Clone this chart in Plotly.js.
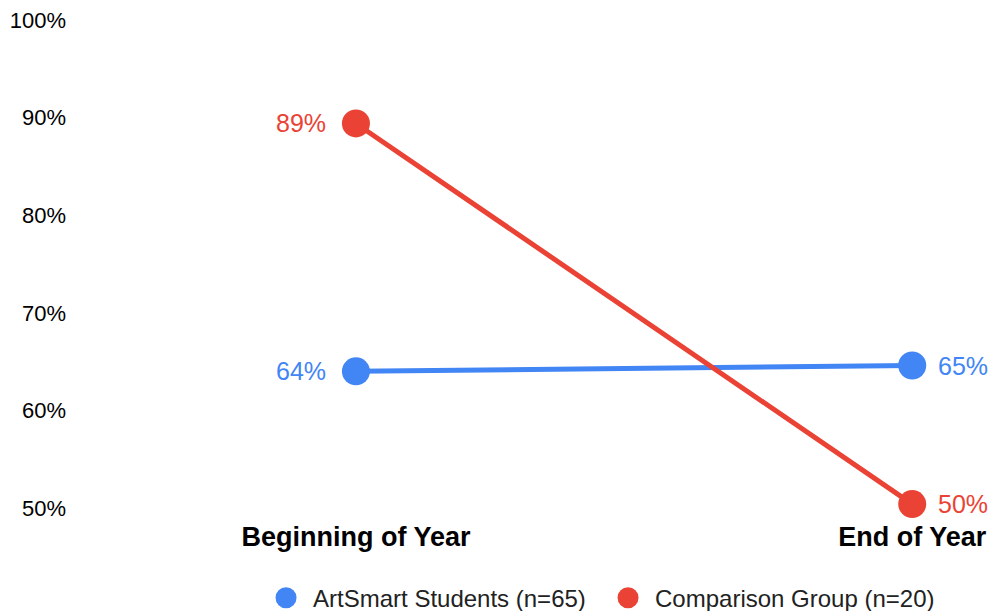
<!DOCTYPE html>
<html>
<head>
<meta charset="utf-8">
<script src="https://cdn.plot.ly/plotly-3.0.1.min.js"></script>
<style>
  html, body { margin: 0; padding: 0; background: #fff; }
  #chart { width: 994px; height: 611px; }
</style>
</head>
<body>
<div id="chart"></div>
<script>
// Share of students, start vs end of the school year
const periods = ['Beginning of Year', 'End of Year'];
const artSmartName = 'ArtSmart Students (n=65)';
const artSmartValues = [64.0, 64.6];
const comparisonName = 'Comparison Group (n=20)';
const comparisonValues = [89.4, 50.4];
const yTickValues = [50, 60, 70, 80, 90, 100];
const yTickLabels = ['50%', '60%', '70%', '80%', '90%', '100%'];

const BLUE = '#4285F4';
const RED = '#EA4335';
const FONT = '"Liberation Sans", Arial, Helvetica, sans-serif';

const xIdx = periods.map((_, i) => i);

function series(name, values, color) {
  return {
    type: 'scatter',
    mode: 'lines+markers',
    name: name,
    x: xIdx,
    y: values,
    line: { color: color, width: 5 },
    marker: { color: color, size: 28 },
    cliponaxis: false,
    showlegend: false,
    hoverinfo: 'skip'
  };
}

// Legend entries drawn as plain dots
function legendDot(name, color) {
  return {
    type: 'scatter',
    mode: 'markers',
    name: name,
    x: [null],
    y: [null],
    marker: { color: color, size: 16, line: { color: color, width: 5 } },
    showlegend: true,
    hoverinfo: 'skip'
  };
}

// Percentage labels beside each point: left of the first, right of the last
function valueLabels(values, color) {
  return values.map((v, i) => ({
    x: xIdx[i],
    y: v,
    xref: 'x',
    yref: 'y',
    text: Math.round(v) + '%',
    showarrow: false,
    xanchor: i === 0 ? 'right' : 'left',
    yanchor: 'middle',
    xshift: i === 0 ? -28 : 24,
    font: { family: FONT, size: 25, color: color }
  }));
}

const data = [
  series(artSmartName, artSmartValues, BLUE),
  series(comparisonName, comparisonValues, RED),
  legendDot(artSmartName, BLUE),
  legendDot(comparisonName, RED)
];

const layout = {
  width: 994,
  height: 611,
  margin: { l: 75, r: 0, t: 20, b: 103, autoexpand: false },
  paper_bgcolor: '#fff',
  plot_bgcolor: '#fff',
  font: { family: FONT, color: '#000' },
  xaxis: {
    range: [-0.505, 1.147],
    tickvals: xIdx,
    ticktext: periods.map(p => '<b>' + p + '</b>'),
    tickfont: { family: FONT, size: 27, color: '#000' },
    showgrid: false,
    zeroline: false,
    showline: false,
    ticks: '',
    ticklabelstandoff: 10,
    fixedrange: true
  },
  yaxis: {
    range: [50, 100],
    tickvals: yTickValues,
    ticktext: yTickLabels,
    tickfont: { family: FONT, size: 22, color: '#000' },
    showgrid: false,
    zeroline: false,
    showline: false,
    ticks: '',
    ticklabelstandoff: 8,
    fixedrange: true
  },
  legend: {
    orientation: 'h',
    xref: 'container',
    yref: 'container',
    x: 0.2606,
    xanchor: 'left',
    y: 0.021,
    yanchor: 'middle',
    font: { family: FONT, size: 24, color: '#222' },
    itemwidth: 44,
    entrywidth: 283,
    entrywidthmode: 'pixels',
    tracegroupgap: 0
  },
  annotations: [
    ...valueLabels(artSmartValues, BLUE),
    ...valueLabels(comparisonValues, RED)
  ],
  showlegend: true
};

Plotly.newPlot('chart', data, layout, { displayModeBar: false, staticPlot: true });
</script>
</body>
</html>
